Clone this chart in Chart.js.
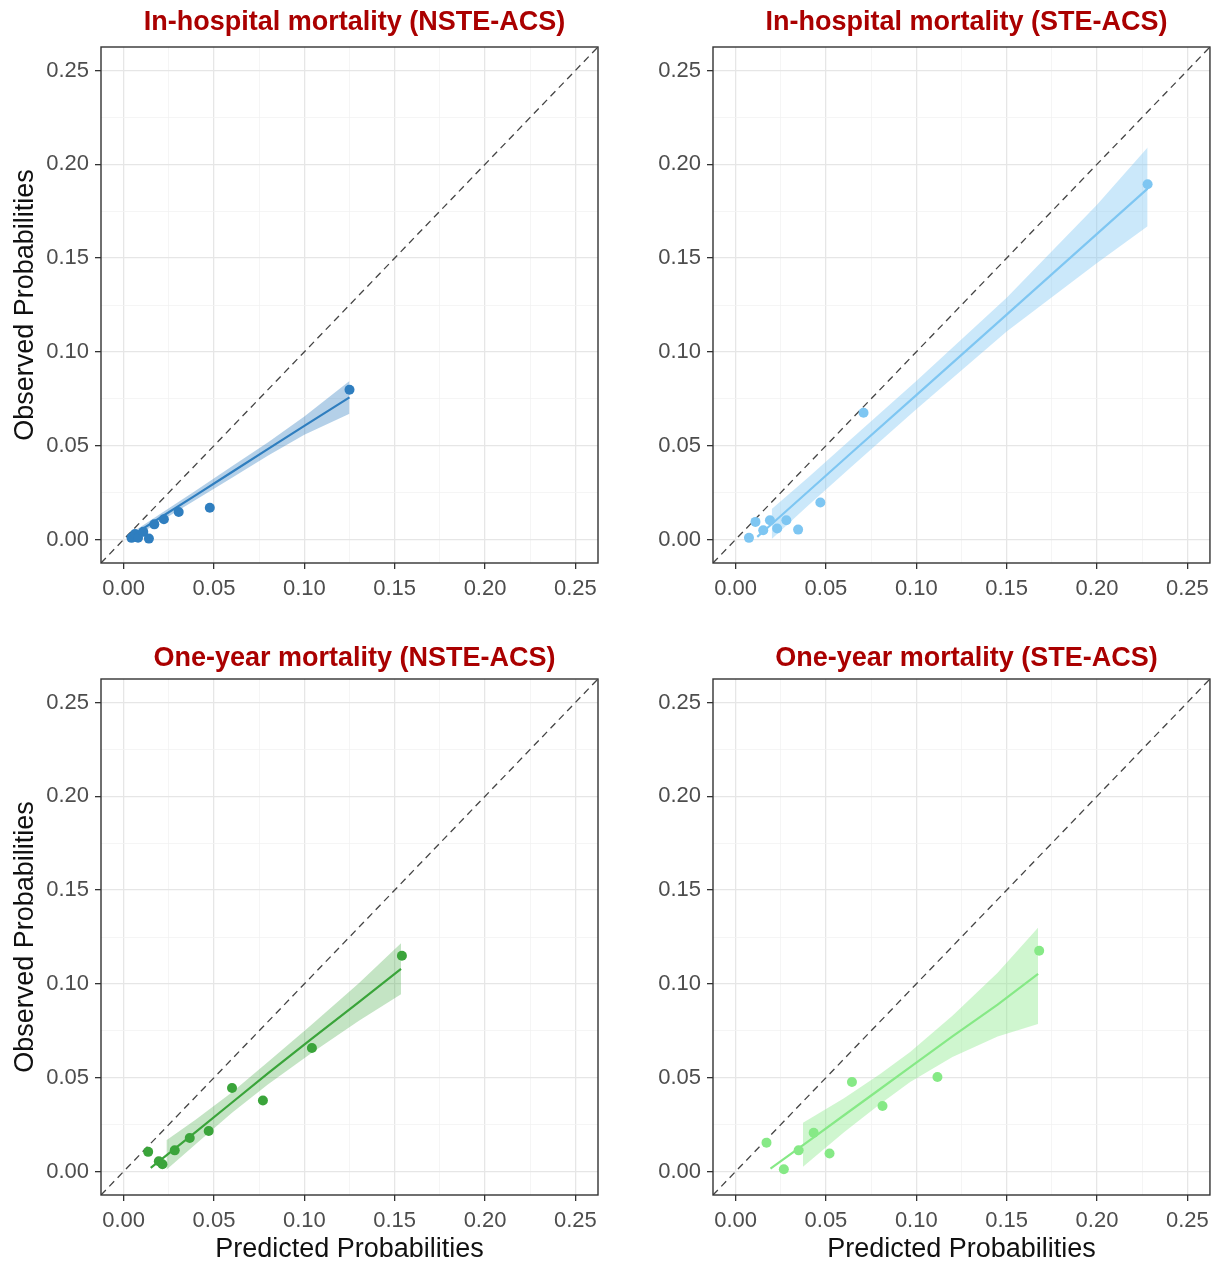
<!DOCTYPE html>
<html>
<head>
<meta charset="utf-8">
<script src="https://cdn.jsdelivr.net/npm/chart.js@4.4.0/dist/chart.umd.min.js"></script>
<style>
body { margin: 0; background: #fff; width: 1216px; height: 1263px; position: relative; overflow: hidden; font-family: "Liberation Sans", Arial, sans-serif; }
canvas { position: absolute; }
.ptitle { position: absolute; width: 497px; color: #aa0000; font-weight: bold; font-size: 27px; line-height: 30px; text-align: center; white-space: nowrap; }
</style>
</head>
<body>
<canvas id="c0" width="608" height="631" style="left:0;top:0"></canvas>
<canvas id="c1" width="608" height="631" style="left:608px;top:0"></canvas>
<canvas id="c2" width="608" height="632" style="left:0;top:631px"></canvas>
<canvas id="c3" width="608" height="632" style="left:608px;top:631px"></canvas>
<div class="ptitle" id="t0" style="left:106px;top:6px"></div>
<div class="ptitle" id="t1" style="left:718px;top:6px"></div>
<div class="ptitle" id="t2" style="left:106px;top:642px"></div>
<div class="ptitle" id="t3" style="left:718px;top:642px"></div>
<script>
var panelTitles = ['In-hospital mortality (NSTE-ACS)', 'In-hospital mortality (STE-ACS)',
                   'One-year mortality (NSTE-ACS)', 'One-year mortality (STE-ACS)'];
var xTitle = 'Predicted Probabilities';
var yTitle = 'Observed Probabilities';
var gridTicks = [0, 0.025, 0.05, 0.075, 0.1, 0.125, 0.15, 0.175, 0.2, 0.225, 0.25];
var axisMin = -0.0125, axisMax = 0.2625;

var lineColors = ['#2f7ebf', '#7ec6f2', '#3aa43a', '#86e986'];
var bandColors = ['rgba(47,126,191,0.36)', 'rgba(126,198,242,0.40)', 'rgba(58,164,58,0.30)', 'rgba(134,233,134,0.40)'];

// in-hospital, NSTE-ACS
var ihNsteX = [0.0044, 0.0063, 0.008, 0.0109, 0.014, 0.017, 0.0223, 0.0305, 0.0477, 0.125];
var ihNsteY = [0.0009, 0.003, 0.001, 0.0041, 0.0005, 0.0081, 0.0108, 0.0147, 0.0169, 0.0798];
var ihNsteFitX = [0.002, 0.02, 0.04, 0.06, 0.08, 0.1, 0.125];
var ihNsteFitY = [0.0005, 0.0115, 0.0237, 0.036, 0.0483, 0.0606, 0.0758];
var ihNsteBandX = [0.002, 0.02, 0.04, 0.06, 0.08, 0.1, 0.125];
var ihNsteLow = [-0.001, 0.0095, 0.0212, 0.033, 0.0448, 0.0558, 0.067];
var ihNsteHigh = [0.002, 0.0135, 0.0262, 0.039, 0.0518, 0.0656, 0.0845];

// in-hospital, STE-ACS
var ihSteX = [0.0074, 0.011, 0.0153, 0.019, 0.023, 0.0281, 0.0346, 0.0469, 0.0708, 0.228];
var ihSteY = [0.0009, 0.0094, 0.005, 0.0103, 0.0059, 0.0103, 0.0053, 0.0197, 0.0676, 0.1894];
var ihSteFitX = [0.012, 0.02, 0.04, 0.0635, 0.1, 0.15, 0.2, 0.228];
var ihSteFitY = [0.0014, 0.0083, 0.0255, 0.0457, 0.077, 0.1199, 0.1629, 0.187];
var ihSteBandX = [0.02, 0.04, 0.0635, 0.1, 0.15, 0.2, 0.228];
var ihSteLow = [0.0003, 0.018, 0.0382, 0.0695, 0.1109, 0.1474, 0.167];
var ihSteHigh = [0.0163, 0.033, 0.0532, 0.0845, 0.1289, 0.1784, 0.209];

// one-year, NSTE-ACS
var oyNsteX = [0.0136, 0.0195, 0.0215, 0.0283, 0.0366, 0.0471, 0.06, 0.0771, 0.1042, 0.154];
var oyNsteY = [0.0105, 0.0055, 0.0039, 0.0113, 0.0179, 0.0216, 0.0445, 0.0379, 0.0658, 0.115];
var oyNsteFitX = [0.015, 0.04, 0.06, 0.08, 0.104, 0.13, 0.1535];
var oyNsteFitY = [0.002, 0.0212, 0.0368, 0.0525, 0.0707, 0.0902, 0.108];
var oyNsteBandX = [0.0237, 0.04, 0.06, 0.08, 0.104, 0.13, 0.1535];
var oyNsteLow = [0.001, 0.0147, 0.0313, 0.0465, 0.0632, 0.0802, 0.0945];
var oyNsteHigh = [0.0167, 0.0277, 0.0423, 0.0585, 0.0782, 0.1002, 0.1217];

// one-year, STE-ACS
var oySteX = [0.0171, 0.0267, 0.0349, 0.0432, 0.052, 0.0644, 0.0813, 0.1117, 0.168];
var oySteY = [0.0154, 0.0012, 0.0113, 0.0207, 0.0096, 0.0477, 0.0349, 0.0504, 0.1177];
var oySteFitX = [0.0193, 0.04, 0.06, 0.08, 0.0966, 0.12, 0.145, 0.1674];
var oySteFitY = [0.0016, 0.016, 0.03, 0.044, 0.0557, 0.072, 0.089, 0.1053];
var oySteBandX = [0.0373, 0.06, 0.08, 0.0966, 0.12, 0.145, 0.1674];
var oySteLow = [0.0025, 0.021, 0.036, 0.0477, 0.061, 0.072, 0.0787];
var oySteHigh = [0.026, 0.039, 0.052, 0.0637, 0.083, 0.106, 0.13];

var panels = [
    {pts: [ihNsteX, ihNsteY], fit: [ihNsteFitX, ihNsteFitY], band: [ihNsteBandX, ihNsteLow, ihNsteHigh]},
    {pts: [ihSteX, ihSteY], fit: [ihSteFitX, ihSteFitY], band: [ihSteBandX, ihSteLow, ihSteHigh]},
    {pts: [oyNsteX, oyNsteY], fit: [oyNsteFitX, oyNsteFitY], band: [oyNsteBandX, oyNsteLow, oyNsteHigh]},
    {pts: [oySteX, oySteY], fit: [oySteFitX, oySteFitY], band: [oySteBandX, oySteLow, oySteHigh]}
];

Chart.defaults.font.family = '"Liberation Sans", Arial, sans-serif';

function toXY(xs, ys) {
    var out = [];
    for (var i = 0; i < xs.length; i++) out.push({x: xs[i], y: ys[i]});
    return out;
}

var boxPlugin = {
    id: 'panelBox',
    afterDraw: function(chart) {
        var a = chart.chartArea, ctx = chart.ctx;
        ctx.save();
        ctx.strokeStyle = '#333333';
        ctx.lineWidth = 1.4;
        ctx.strokeRect(a.left, a.top, a.right - a.left, a.bottom - a.top);
        ctx.restore();
    }
};

function makeScale(size, showTitle, titleText, horizontal) {
    var s = {
        type: 'linear', min: axisMin, max: axisMax,
        afterBuildTicks: function(sc) { sc.ticks = gridTicks.map(function(v) { return {value: v}; }); },
        border: {display: false},
        grid: {
            color: function(c) { return c.index % 2 === 0 ? '#e6e6e6' : '#f2f2f2'; },
            lineWidth: function(c) { return c.index % 2 === 0 ? 1.3 : 0.8; },
            tickLength: 6,
            tickColor: function(c) { return c.index % 2 === 0 ? '#333333' : 'rgba(0,0,0,0)'; },
            tickWidth: 1.3
        },
        ticks: {
            autoSkip: false, maxRotation: 0, padding: horizontal ? 7 : 6, color: '#4d4d4d', font: {size: 22},
            callback: function(v, i) { return i % 2 === 0 ? v.toFixed(2) : ''; }
        },
        title: {display: showTitle, text: titleText, color: '#111111', font: {size: 27, lineHeight: 1.0}}
    };
    if (horizontal) {
        s.afterFit = function(sc) { sc.height = size; };
        s.title.padding = {top: 0, bottom: 0};
    } else {
        s.afterFit = function(sc) { sc.width = size; };
        s.title.padding = {top: 12, bottom: 0};
    }
    return s;
}

function makeChart(idx, yWidth, padTop, padRight, showX, showY) {
    var p = panels[idx];
    var col = lineColors[idx];
    document.getElementById('t' + idx).textContent = panelTitles[idx];
    return new Chart(document.getElementById('c' + idx).getContext('2d'), {
        type: 'scatter',
        data: {datasets: [
            {data: toXY(p.pts[0], p.pts[1]), backgroundColor: col, borderWidth: 0, pointRadius: 5, order: 1},
            {data: toXY(p.fit[0], p.fit[1]), showLine: true, borderColor: col, borderWidth: 2.2, pointRadius: 0, order: 2},
            {data: [{x: axisMin, y: axisMin}, {x: axisMax, y: axisMax}], showLine: true, borderColor: '#444444',
             borderWidth: 1.3, borderDash: [7, 5], pointRadius: 0, order: 3},
            {data: toXY(p.band[0], p.band[2]), showLine: true, borderWidth: 0, borderColor: 'rgba(0,0,0,0)',
             backgroundColor: bandColors[idx], fill: '+1', pointRadius: 0, order: 4},
            {data: toXY(p.band[0], p.band[1]), showLine: true, borderWidth: 0, borderColor: 'rgba(0,0,0,0)',
             pointRadius: 0, order: 5}
        ]},
        options: {
            responsive: false, animation: false,
            layout: {padding: {top: padTop, right: padRight, left: 0, bottom: 0}},
            plugins: {legend: {display: false}, tooltip: {enabled: false}},
            scales: {
                x: makeScale(68, showX, xTitle, true),
                y: makeScale(yWidth, showY, yTitle, false)
            }
        },
        plugins: [boxPlugin]
    });
}

makeChart(0, 101, 47, 10, false, true);
makeChart(1, 105, 47, 5, false, false);
makeChart(2, 101, 48, 10, true, true);
makeChart(3, 105, 48, 5, true, false);
</script>
</body>
</html>
